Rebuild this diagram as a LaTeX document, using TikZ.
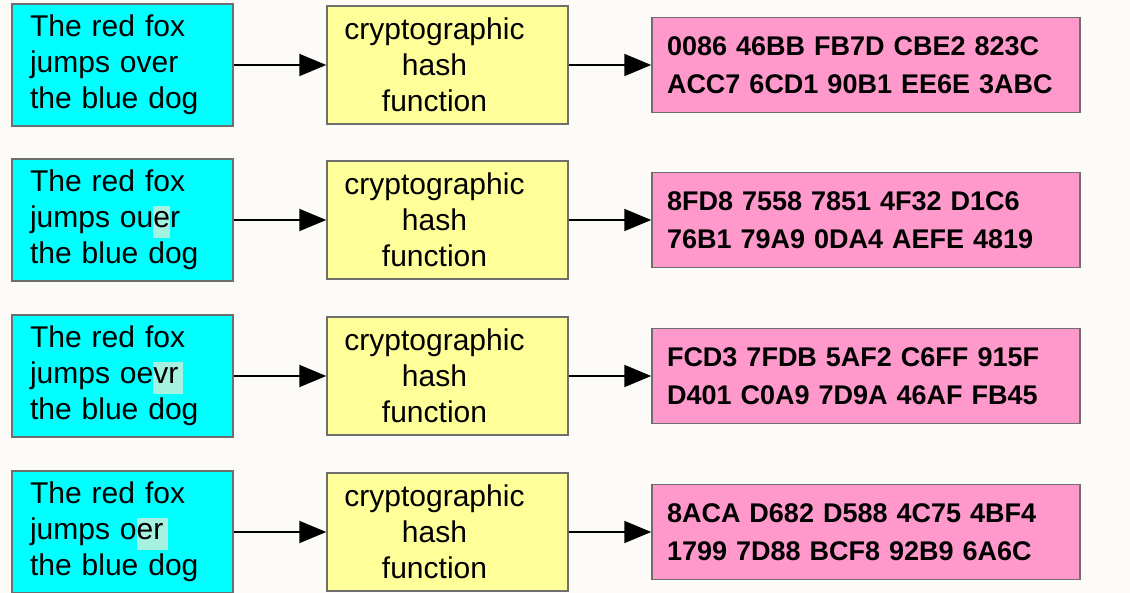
\documentclass[tikz,border=0pt]{standalone}
\usepackage{fontspec}
\setmainfont{Liberation Sans}
\usetikzlibrary{arrows.meta}
\definecolor{msgcyan}{HTML}{00FFFF}
\definecolor{hashyellow}{HTML}{FFFF99}
\definecolor{digestpink}{HTML}{FF99CC}
\definecolor{edgegray}{HTML}{6E6E6E}
\definecolor{typomark}{HTML}{A6F2E0}
\definecolor{paper}{HTML}{FCFBF7}
\newcommand{\typo}[1]{{\setlength{\fboxsep}{0pt}\colorbox{typomark}{\vrule height 22pt depth 10pt width 0pt#1}}}

\begin{document}
\begin{tikzpicture}[x=1pt,y=-1pt,
    message/.style={draw=edgegray, line width=1.5pt, fill=msgcyan, text width=185pt, inner xsep=18pt,
        minimum height=122pt, align=left, font=\fontsize{30}{36}\selectfont},
    hashfn/.style={draw=edgegray, line width=1.5pt, fill=hashyellow, text width=215pt, inner xsep=13pt,
        minimum height=118pt, font=\fontsize{30}{36}\selectfont,
        execute at begin node={\leftskip=0pt plus 1fil\rightskip=26pt plus 1fil\parfillskip=0pt}},
    digest/.style={draw=edgegray, line width=1.5pt, fill=digestpink, text width=398pt, inner xsep=15pt,
        minimum height=95pt, align=left, font=\bfseries\fontsize{27}{38}\selectfont},
    flow/.style={line width=2pt, -{Triangle[length=27pt,width=22pt]}}]
    \fill[paper] (0,0) rectangle (1130,593);
    \useasboundingbox (0,0) rectangle (1130,593);

    \node[message] (msg1) at (122.5,65) {The red fox\\jumps over\\the blue dog};
    \node[hashfn] (hash1) at (447.5,65) {cryptographic\\hash\\function};
    \node[digest] (out1) at (866,65) {0086 46BB FB7D CBE2 823C\\ACC7 6CD1 90B1 EE6E 3ABC};
    \draw[flow] (msg1) -- (hash1);
    \draw[flow] (hash1) -- (out1);

    \node[message] (msg2) at (122.5,220) {The red fox\\jumps ou\typo{e}r\\the blue dog};
    \node[hashfn] (hash2) at (447.5,220) {cryptographic\\hash\\function};
    \node[digest] (out2) at (866,220) {8FD8 7558 7851 4F32 D1C6\\76B1 79A9 0DA4 AEFE 4819};
    \draw[flow] (msg2) -- (hash2);
    \draw[flow] (hash2) -- (out2);

    \node[message] (msg3) at (122.5,376) {The red fox\\jumps oe\typo{vr\,}\\the blue dog};
    \node[hashfn] (hash3) at (447.5,376) {cryptographic\\hash\\function};
    \node[digest] (out3) at (866,376) {FCD3 7FDB 5AF2 C6FF 915F\\D401 C0A9 7D9A 46AF FB45};
    \draw[flow] (msg3) -- (hash3);
    \draw[flow] (hash3) -- (out3);

    \node[message] (msg4) at (122.5,532) {The red fox\\jumps o\typo{er\,}\\the blue dog};
    \node[hashfn] (hash4) at (447.5,532) {cryptographic\\hash\\function};
    \node[digest] (out4) at (866,532) {8ACA D682 D588 4C75 4BF4\\1799 7D88 BCF8 92B9 6A6C};
    \draw[flow] (msg4) -- (hash4);
    \draw[flow] (hash4) -- (out4);
\end{tikzpicture}
\end{document}
